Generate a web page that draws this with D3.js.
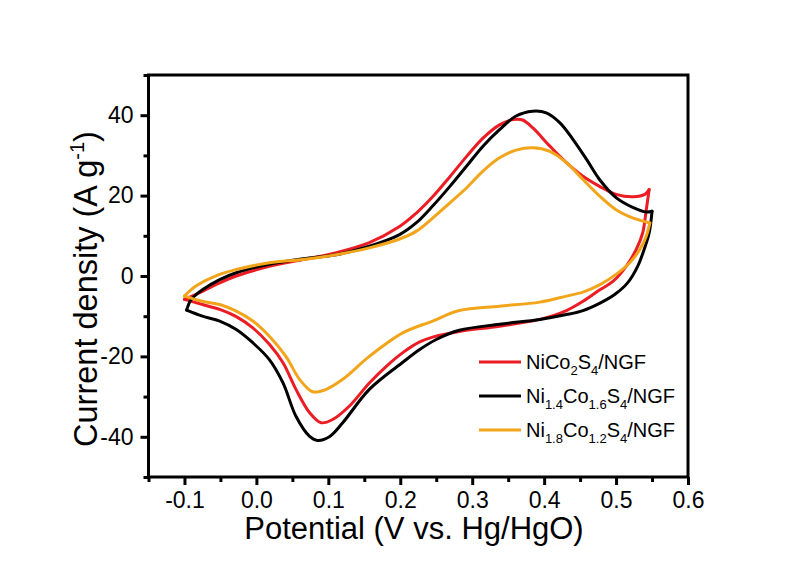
<!DOCTYPE html>
<html>
<head>
<meta charset="utf-8">
<script src="https://cdn.jsdelivr.net/npm/d3@7"></script>
<style>
  body { margin: 0; background: #fff; }
  text { font-family: "Liberation Sans", Arial, sans-serif; }
</style>
</head>
<body>
<div id="chart"></div>
<script>
const width = 786;
const height = 561;

// tick values
const xTicks = [-0.1, 0.0, 0.1, 0.2, 0.3, 0.4, 0.5, 0.6];
const xMinor = [-0.15, -0.05, 0.05, 0.15, 0.25, 0.35, 0.45, 0.55];
const yTicks = [-40, -20, 0, 20, 40];
const yMinor = [-50, -30, -10, 10, 30, 50];

// CV loops [potential, current density], anodic sweep then cathodic sweep
const redForward = [[-0.100,-5.8],[-0.075,-3.8],[-0.051,-1.7],[-0.028,0.0],[0.018,2.4],[0.065,4.1],[0.111,5.8],[0.157,8.3],[0.199,12.3],[0.222,15.6],[0.245,19.7],[0.269,24.7],[0.292,29.7],[0.315,34.3],[0.338,37.6],[0.357,38.9],[0.370,38.8],[0.384,36.9],[0.408,32.3],[0.431,28.2],[0.454,24.8],[0.477,22.3],[0.500,20.3],[0.524,19.7],[0.540,20.3],[0.546,21.5]];
const redReverse = [[0.546,21.5],[0.542,16.5],[0.537,10.7],[0.528,6.6],[0.514,2.4],[0.496,-1.3],[0.477,-3.5],[0.454,-6.3],[0.431,-8.6],[0.394,-10.8],[0.338,-12.5],[0.282,-13.8],[0.245,-15.2],[0.227,-16.4],[0.204,-19.0],[0.181,-22.4],[0.157,-26.6],[0.129,-32.4],[0.106,-35.7],[0.090,-36.5],[0.074,-34.0],[0.055,-28.2],[0.037,-21.6],[0.018,-17.0],[-0.005,-12.9],[-0.028,-10.1],[-0.051,-8.3],[-0.075,-7.1],[-0.100,-5.8]];

const blackForward = [[-0.097,-8.5],[-0.092,-6.2],[-0.085,-4.8],[-0.075,-3.4],[-0.051,-0.9],[-0.028,0.8],[0.018,2.9],[0.065,4.3],[0.111,5.3],[0.157,7.4],[0.199,10.3],[0.222,13.2],[0.245,17.4],[0.269,22.3],[0.292,27.3],[0.315,32.3],[0.338,36.4],[0.361,39.8],[0.384,41.0],[0.403,40.6],[0.422,38.1],[0.440,34.0],[0.459,29.0],[0.477,24.0],[0.500,19.5],[0.524,17.0],[0.542,15.9],[0.550,16.1]];
const blackReverse = [[0.550,16.1],[0.546,10.7],[0.539,6.6],[0.530,2.4],[0.516,-1.7],[0.498,-4.6],[0.477,-6.8],[0.454,-8.6],[0.431,-9.6],[0.394,-10.8],[0.338,-12.0],[0.282,-13.5],[0.250,-15.8],[0.227,-18.3],[0.204,-21.4],[0.157,-28.2],[0.120,-36.5],[0.102,-39.9],[0.085,-40.9],[0.074,-39.9],[0.055,-34.9],[0.037,-26.6],[0.018,-20.8],[-0.005,-16.6],[-0.028,-13.3],[-0.051,-11.2],[-0.075,-10.0],[-0.097,-8.5]];

const orangeForward = [[-0.100,-5.0],[-0.084,-2.5],[-0.051,0.4],[-0.028,1.6],[0.018,3.3],[0.065,4.1],[0.111,5.3],[0.157,7.0],[0.199,9.2],[0.222,11.1],[0.245,14.4],[0.269,18.2],[0.292,21.9],[0.315,26.1],[0.338,29.4],[0.361,31.3],[0.384,31.9],[0.408,31.0],[0.431,28.2],[0.454,24.0],[0.477,19.9],[0.500,16.5],[0.524,14.4],[0.547,13.2]];
const orangeReverse = [[0.547,13.2],[0.542,9.9],[0.533,6.6],[0.519,3.3],[0.500,0.4],[0.477,-2.2],[0.454,-4.0],[0.431,-5.0],[0.394,-6.5],[0.338,-7.5],[0.282,-8.6],[0.245,-11.2],[0.204,-14.1],[0.157,-20.0],[0.120,-25.7],[0.097,-28.2],[0.078,-28.8],[0.060,-25.7],[0.041,-20.0],[0.018,-15.0],[-0.005,-11.2],[-0.028,-8.75],[-0.051,-7.1],[-0.075,-6.3],[-0.100,-5.0]];

// legend labels: [text, subscript?]
const names = [
  [["NiCo", false], ["2", true], ["S", false], ["4", true], ["/NGF", false]],
  [["Ni", false], ["1.4", true], ["Co", false], ["1.6", true], ["S", false], ["4", true], ["/NGF", false]],
  [["Ni", false], ["1.8", true], ["Co", false], ["1.2", true], ["S", false], ["4", true], ["/NGF", false]]
];
const colors = ["#ec1c24", "#000000", "#f2a51a"];

const series = [
  { color: colors[0], parts: [redForward, redReverse] },
  { color: colors[1], parts: [blackForward, blackReverse] },
  { color: colors[2], parts: [orangeForward, orangeReverse] }
];

const svg = d3.select("#chart")
  .append("svg")
  .attr("width", width)
  .attr("height", height);

svg.append("rect").attr("width", width).attr("height", height).attr("fill", "#fff");

const x = d3.scaleLinear().domain([-0.15, 0.6]).range([148.5, 688]);
const y = d3.scaleLinear().domain([-50, 50]).range([477, 75]);

// axes
function styleAxis(g) {
  g.select(".domain").remove();
  g.selectAll(".tick line").attr("stroke", "#000").attr("stroke-width", 3);
  g.selectAll(".tick text").attr("fill", "#000").style("font-size", "23px")
    .style("font-family", "'Liberation Sans', Arial, sans-serif");
}

svg.append("g")
  .attr("transform", "translate(0,477)")
  .call(d3.axisBottom(x).tickValues(xMinor).tickSize(5).tickFormat(""))
  .call(styleAxis);
svg.append("g")
  .attr("transform", "translate(0,477)")
  .call(d3.axisBottom(x).tickValues(xTicks).tickSize(8).tickPadding(7).tickFormat(d => d.toFixed(1)))
  .call(styleAxis);

svg.append("g")
  .attr("transform", "translate(148.5,0)")
  .call(d3.axisLeft(y).tickValues(yMinor).tickSize(5).tickFormat(""))
  .call(styleAxis);
svg.append("g")
  .attr("transform", "translate(148.5,0)")
  .call(d3.axisLeft(y).tickValues(yTicks).tickSize(8).tickPadding(7).tickFormat(d => String(d)))
  .call(styleAxis);

// curves
const line = d3.line()
  .x(d => x(d[0]))
  .y(d => y(d[1]))
  .curve(d3.curveCatmullRom.alpha(0.5));

series.forEach(s => {
  s.parts.forEach(p => {
    svg.append("path")
      .attr("d", line(p))
      .attr("fill", "none")
      .attr("stroke", s.color)
      .attr("stroke-width", 3)
      .attr("stroke-linejoin", "round")
      .attr("stroke-linecap", "round");
  });
});

// frame
svg.append("rect")
  .attr("x", x(-0.15))
  .attr("y", y(50))
  .attr("width", x(0.6) - x(-0.15))
  .attr("height", y(-50) - y(50))
  .attr("fill", "none")
  .attr("stroke", "#000")
  .attr("stroke-width", 3);

// legend
const legend = svg.append("g").attr("id", "legend");
names.forEach((parts, i) => {
  const ly = 362 + i * 34;
  legend.append("line")
    .attr("x1", 479).attr("x2", 521)
    .attr("y1", ly).attr("y2", ly)
    .attr("stroke", colors[i])
    .attr("stroke-width", 3);
  const t = legend.append("text")
    .attr("x", 526)
    .attr("y", ly + 7)
    .style("font-size", "20px")
    .attr("fill", "#000");
  let down = false;
  parts.forEach(([txt, sub]) => {
    const ts = t.append("tspan").text(txt);
    if (sub && !down) { ts.attr("dy", 6).style("font-size", "13px"); down = true; }
    else if (sub) { ts.style("font-size", "13px"); }
    else if (down) { ts.attr("dy", -6); down = false; }
  });
});

// axis titles
svg.append("text")
  .attr("x", 414)
  .attr("y", 539)
  .attr("text-anchor", "middle")
  .style("font-size", "31px")
  .text("Potential (V vs. Hg/HgO)");

const yt = svg.append("text")
  .attr("transform", "translate(97,289) rotate(-90)")
  .attr("text-anchor", "middle")
  .style("font-size", "32.5px");
yt.append("tspan").text("Current density (A g");
yt.append("tspan").attr("dy", -13).style("font-size", "20px").text("-1");
yt.append("tspan").attr("dy", 13).text(")");
</script>
</body>
</html>
